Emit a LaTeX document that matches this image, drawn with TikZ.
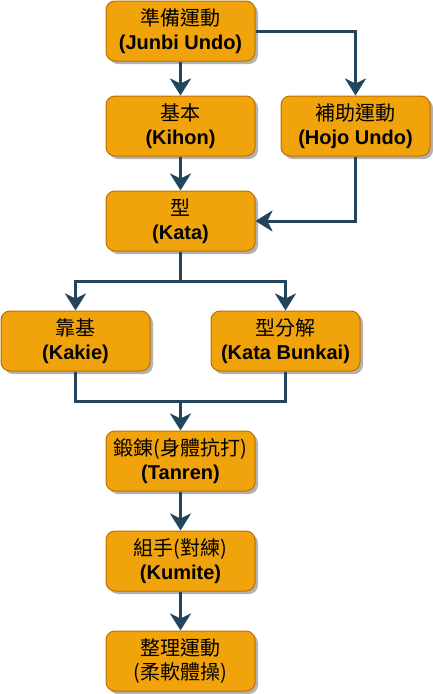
\documentclass[tikz,border=0pt]{standalone}
\usepackage{fontspec}
\setmainfont{Liberation Sans}
\newfontfamily\cjk{Noto Sans CJK TC}
\usetikzlibrary{arrows.meta,shadows}
\definecolor{boxfill}{HTML}{F0A30A}
\definecolor{boxline}{HTML}{BD7000}
\definecolor{conn}{HTML}{23445D}
\begin{document}
\begin{tikzpicture}[x=1pt,y=-1pt,
  stage/.style={draw=boxline, line width=1pt, fill=boxfill, rounded corners=9pt,
    minimum width=149pt, minimum height=60pt, inner sep=0pt, align=center,
    font=\fontsize{20}{24.5}\selectfont,
    drop shadow={shadow xshift=3pt, shadow yshift=-3pt, fill=black, opacity=0.3}},
  link/.style={draw=conn, line width=3pt},
  arr/.style={link, -{Stealth[length=17pt,width=21pt,inset=5pt]}}]
\useasboundingbox (0,0) rectangle (433,694);
\newcommand{\stg}[2]{{\cjk #1}\\\textbf{#2}}
\node[stage] (junbi) at (180.5,31) {\stg{準備運動}{(Junbi Undo)}};
\node[stage] (kihon) at (180.5,126) {\stg{基本}{(Kihon)}};
\node[stage] (hojo) at (355.5,126) {\stg{補助運動}{(Hojo Undo)}};
\node[stage] (kata) at (180.5,221) {\stg{型}{(Kata)}};
\node[stage] (kakie) at (75.5,341) {\stg{靠基}{(Kakie)}};
\node[stage] (bunkai) at (285.5,341) {\stg{型分解}{(Kata Bunkai)}};
\node[stage] (tanren) at (180.5,461) {\stg{鍛錬(身體抗打)}{(Tanren)}};
\node[stage] (kumite) at (180.5,561) {\stg{組手(對練)}{(Kumite)}};
\node[stage] (seiri) at (180.5,661) {{\cjk 整理運動}\\{\cjk (柔軟體操)}};
\coordinate (split) at (180.5,281);
\coordinate (merge) at (180.5,401);
\draw[arr] (junbi) -- (kihon);
\draw[arr] (junbi.east) -| (hojo.north);
\draw[arr] (kihon) -- (kata);
\draw[arr] (hojo.south) |- (kata.east);
\draw[link] (kata.south) -- (split);
\draw[arr] (split) -| (kakie.north);
\draw[arr] (split) -| (bunkai.north);
\draw[link] (kakie.south) |- (merge);
\draw[link] (bunkai.south) |- (merge);
\draw[arr] (merge) -- (tanren.north);
\draw[arr] (tanren) -- (kumite);
\draw[arr] (kumite) -- (seiri);
\end{tikzpicture}
\end{document}
